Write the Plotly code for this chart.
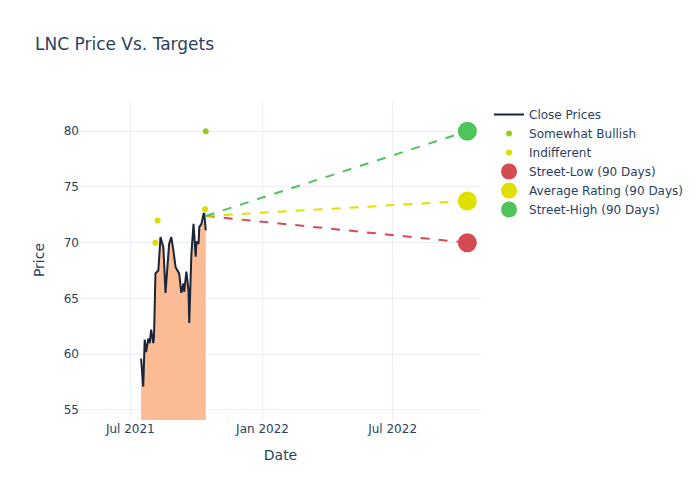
import plotly.graph_objects as go

close_dates = [
    "2021-07-16", "2021-07-19", "2021-07-21", "2021-07-23", "2021-07-26", "2021-07-28",
    "2021-07-30", "2021-08-02", "2021-08-03", "2021-08-05", "2021-08-09", "2021-08-12",
    "2021-08-16", "2021-08-19", "2021-08-24", "2021-08-27", "2021-08-30", "2021-09-02",
    "2021-09-07", "2021-09-09", "2021-09-10", "2021-09-13", "2021-09-14", "2021-09-17",
    "2021-09-20", "2021-09-21", "2021-09-24", "2021-09-27", "2021-09-30", "2021-10-01",
    "2021-10-04", "2021-10-05", "2021-10-08", "2021-10-11", "2021-10-12", "2021-10-14",
]
close_prices = [
    59.6, 57.1, 61.3, 60.2, 61.4, 61.0,
    62.2, 61.0, 61.6, 67.25, 67.5, 70.5,
    69.6, 65.5, 69.9, 70.5, 69.3, 67.8,
    67.25, 66.35, 65.5, 66.35, 65.6, 67.4,
    65.75, 62.8, 69.0, 71.7, 68.75, 70.1,
    69.9, 71.4, 71.7, 72.6, 72.6, 71.1,
]

bullish_dates = ["2021-10-14"]
bullish_prices = [80]

indifferent_dates = ["2021-08-05", "2021-08-08", "2021-10-13"]
indifferent_prices = [70, 72, 73]

start_date = "2021-10-14"
start_price = 72.4
target_date = "2022-10-13"
street_low = 70
average_rating = 73.75
street_high = 80

fig = go.Figure()

fig.add_trace(go.Scatter(
    x=close_dates, y=close_prices, mode="lines", fill="tozeroy",
    fillcolor="rgba(250,175,130,0.85)", line=dict(width=0),
    showlegend=False, hoverinfo="skip",
))
fig.add_trace(go.Scatter(
    x=close_dates, y=close_prices, mode="lines", name="Close Prices",
    line=dict(color="#1b2438", width=2),
))
fig.add_trace(go.Scatter(
    x=bullish_dates, y=bullish_prices, mode="markers", name="Somewhat Bullish",
    marker=dict(color="#9ccc1c", size=6),
))
fig.add_trace(go.Scatter(
    x=indifferent_dates, y=indifferent_prices, mode="markers", name="Indifferent",
    marker=dict(color="#e0dc00", size=6),
))

targets = [
    ("Street-Low (90 Days)", street_low, "#d64b52"),
    ("Average Rating (90 Days)", average_rating, "#e0e000"),
    ("Street-High (90 Days)", street_high, "#4fc45a"),
]
for name, val, color in targets:
    fig.add_trace(go.Scatter(
        x=[start_date, target_date], y=[start_price, val], mode="lines",
        line=dict(color=color, width=2, dash="dash"), showlegend=False,
    ))
for name, val, color in targets:
    fig.add_trace(go.Scatter(
        x=[target_date], y=[val], mode="markers", name=name,
        marker=dict(color=color, size=19),
    ))

fig.update_layout(
    template="plotly_white",
    width=700, height=500,
    font=dict(family="DejaVu Sans"),
    title=dict(text="LNC Price Vs. Targets"),
    xaxis=dict(title="Date", range=["2021-04-22", "2022-11-01"]),
    yaxis=dict(title="Price", range=[54.1, 82.8]),
)

fig.write_html("out.html", config={"displayModeBar": False},
               post_script="document.body.style.margin='0px';")
